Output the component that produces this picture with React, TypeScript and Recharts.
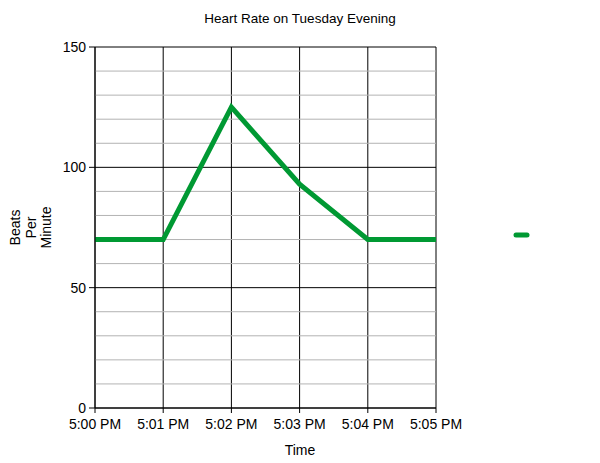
import React from "react";
import {
  LineChart,
  Line,
  XAxis,
  YAxis,
  CartesianGrid,
  ReferenceLine,
} from "recharts";

const times = ["5:00 PM", "5:01 PM", "5:02 PM", "5:03 PM", "5:04 PM", "5:05 PM"];
const heartRate = [70, 70, 125, 93, 70, 70];
const majorTicks = [0, 50, 100, 150];
const minorTicks = [10, 20, 30, 40, 60, 70, 80, 90, 110, 120, 130, 140];

const data = times.map((t, i) => ({ time: t, bpm: heartRate[i] }));

const FONT = "'Liberation Sans', Arial, sans-serif";
const LINE_COLOR = "#009933";

const YLabel = (props: any) => {
  const { viewBox } = props;
  const cy = viewBox.y + viewBox.height / 2;
  const lines = ["Beats", "Per", "Minute"];
  const x0 = 20;
  return (
    <g>
      {lines.map((l, i) => (
        <text
          key={l}
          x={x0 + i * 15.5}
          y={cy}
          transform={`rotate(-90 ${x0 + i * 15.5} ${cy})`}
          textAnchor="middle"
          fontSize={14}
          fontFamily={FONT}
          fill="#000"
        >
          {l}
        </text>
      ))}
    </g>
  );
};

export default function App() {
  return (
    <div style={{ position: "absolute", left: 0, top: 0, width: 600, height: 463, background: "#fff" }}>
      <LineChart
        width={600}
        height={463}
        data={data}
        margin={{ top: 47, right: 164, bottom: 25, left: 0 }}
      >
        <text x={300} y={23} textAnchor="middle" fontSize={13.5} fontFamily={FONT} fill="#000">
          Heart Rate on Tuesday Evening
        </text>
        <text x={300} y={455} textAnchor="middle" fontSize={14} fontFamily={FONT} fill="#000">
          Time
        </text>
        <line x1={516} y1={235} x2={527} y2={235} stroke={LINE_COLOR} strokeWidth={5} strokeLinecap="round" />
        {minorTicks.map((v) => (
          <ReferenceLine key={v} y={v} stroke="#b3b3b3" strokeWidth={1} ifOverflow="extendDomain" />
        ))}
        <CartesianGrid stroke="#000" strokeWidth={1} />
        <XAxis
          dataKey="time"
          stroke="#000"
          tickSize={5}
          tick={{ fill: "#000", fontSize: 14, fontFamily: FONT }}
          tickMargin={6}
          interval={0}
        />
        <YAxis
          domain={[0, 150]}
          ticks={majorTicks}
          width={95}
          stroke="#000"
          tickSize={6}
          tickMargin={3}
          tick={{ fill: "#000", fontSize: 14, fontFamily: FONT }}
          label={<YLabel />}
        />
        <Line
          type="linear"
          dataKey="bpm"
          stroke={LINE_COLOR}
          strokeWidth={5}
          dot={false}
          activeDot={false}
          isAnimationActive={false}
        />
      </LineChart>
    </div>
  );
}
